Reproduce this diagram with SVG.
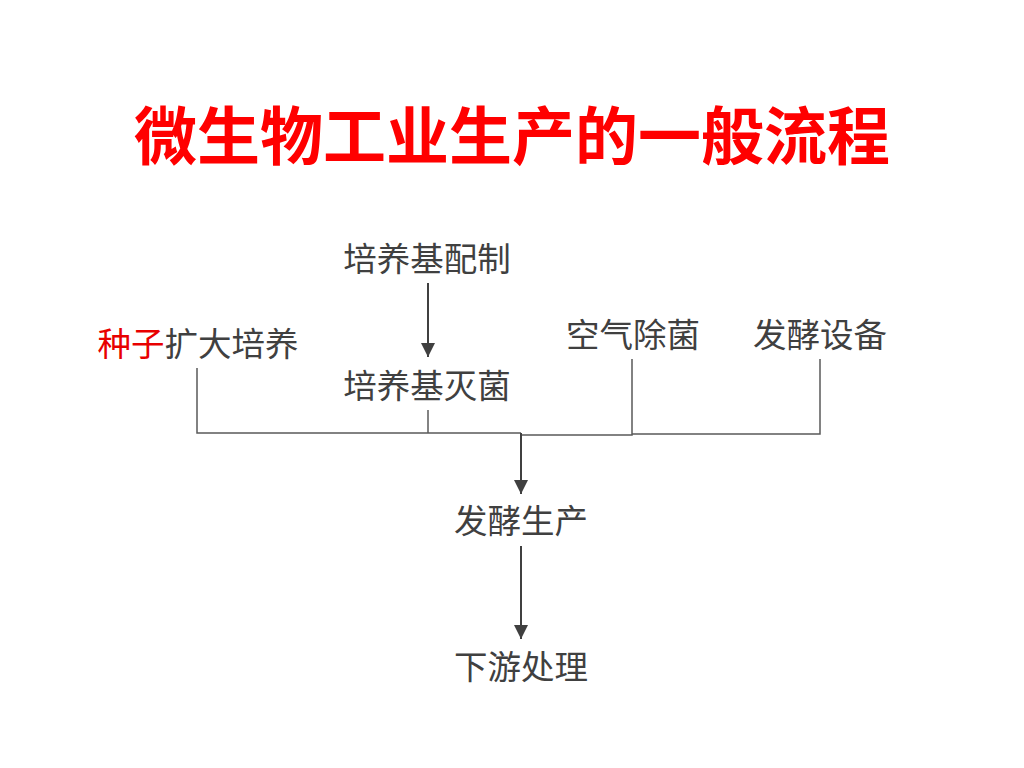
<svg xmlns="http://www.w3.org/2000/svg" width="1024" height="768" viewBox="0 0 1024 768">
<style>
.t{font-family:"Noto Sans CJK SC","Noto Sans",sans-serif;font-size:33.5px;fill:#404040;text-anchor:middle}
.red{fill:#e80000}
.title{font-family:"Noto Sans CJK SC","Noto Sans",sans-serif;font-size:63px;font-weight:bold;fill:#ff0000;text-anchor:middle}
.ln{fill:none;stroke:#5a5a5a;stroke-width:1.5}
.ar{fill:none;stroke:#404040;stroke-width:2}
</style>
<defs>
<marker id="ah" markerWidth="14" markerHeight="14" viewBox="0 0 14 14" refX="14" refY="7" orient="auto" markerUnits="userSpaceOnUse">
<path d="M0,0 L14,7 L0,14 Z" fill="#404040"/>
</marker>
</defs>
<rect width="1024" height="768" fill="#ffffff"/>
<text class="title" x="512" y="159">微生物工业生产的一般流程</text>
<g id="connectors">
<line class="ar" x1="428" y1="283" x2="428" y2="357" marker-end="url(#ah)"/>
<polyline class="ln" points="197,368 197,433 521,433"/>
<polyline class="ln" points="428,410 428,433"/>
<polyline class="ln" points="632,359 632,435 521,435"/>
<polyline class="ln" points="820,359 820,434 632,434"/>
<line class="ar" x1="521" y1="433" x2="521" y2="494" marker-end="url(#ah)"/>
<line class="ar" x1="521" y1="546" x2="521" y2="639" marker-end="url(#ah)"/>
</g>
<g id="n1"><text class="t" x="427" y="271">培养基配制</text></g>
<g id="n2"><text class="t" x="198" y="356"><tspan class="red">种子</tspan>扩大培养</text></g>
<g id="n3"><text class="t" x="427" y="398">培养基灭菌</text></g>
<g id="n4"><text class="t" x="633" y="347">空气除菌</text></g>
<g id="n5"><text class="t" x="820" y="347">发酵设备</text></g>
<g id="n6"><text class="t" x="521" y="533">发酵生产</text></g>
<g id="n7"><text class="t" x="521" y="679">下游处理</text></g>
</svg>
